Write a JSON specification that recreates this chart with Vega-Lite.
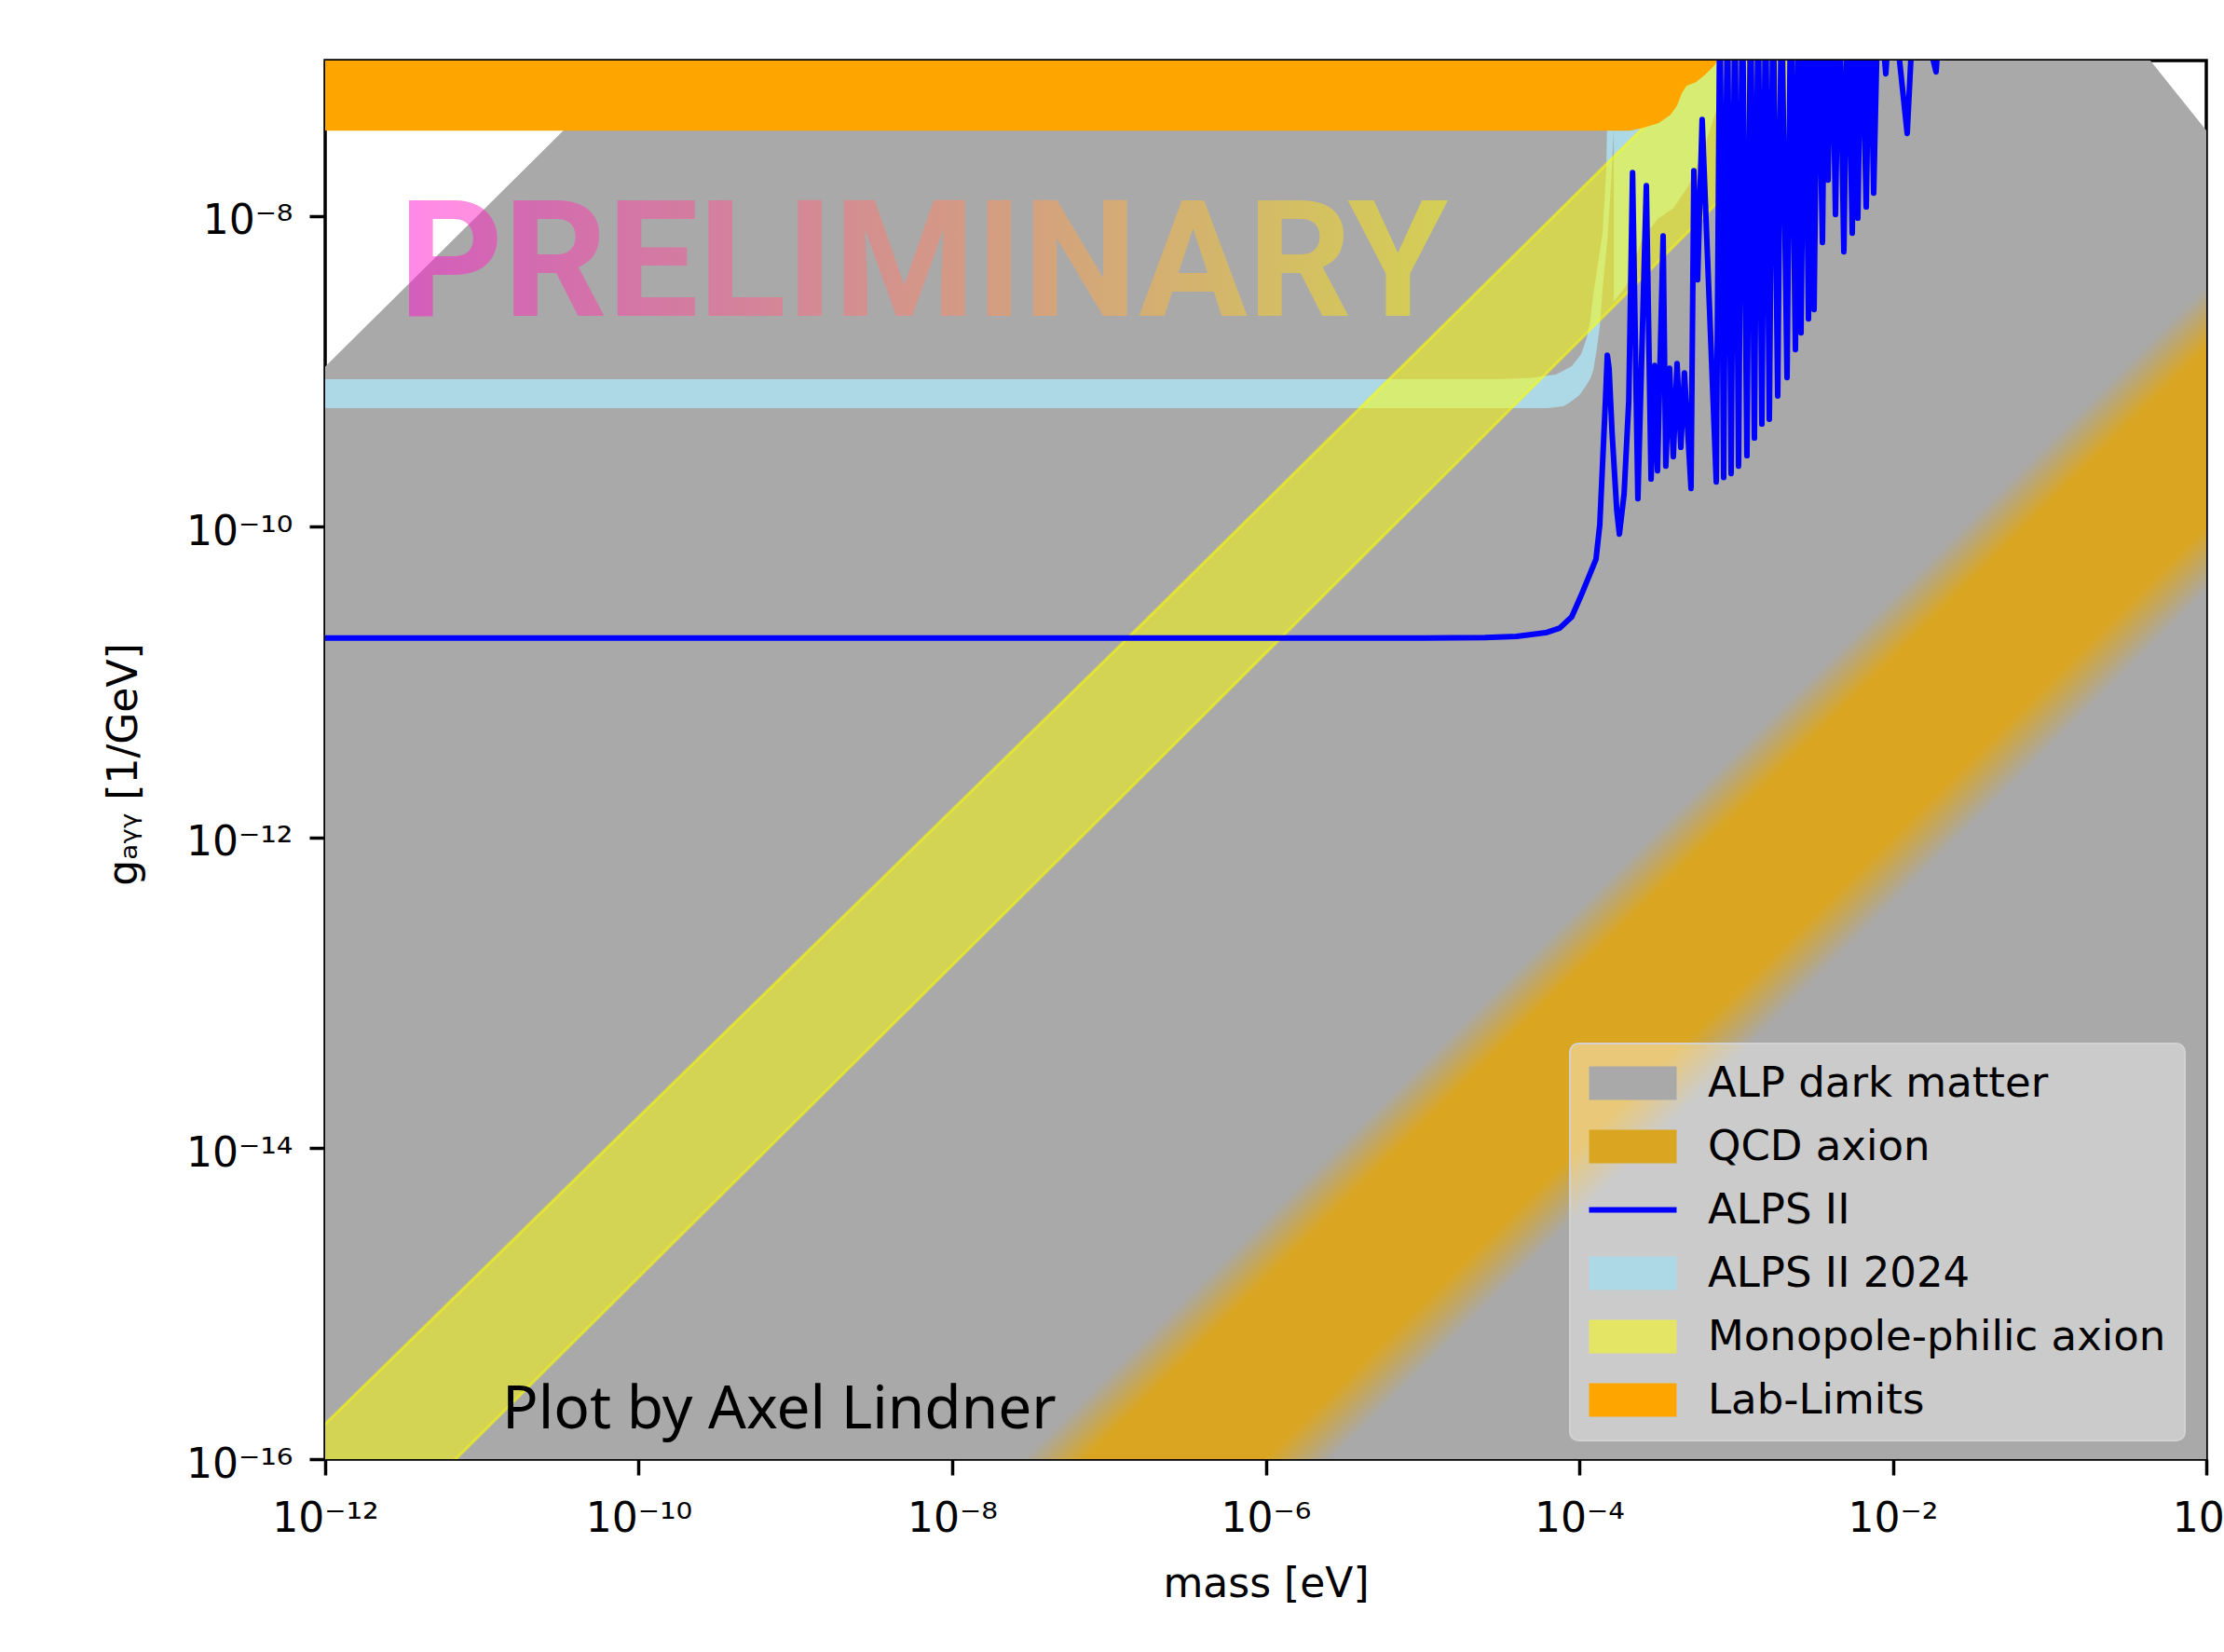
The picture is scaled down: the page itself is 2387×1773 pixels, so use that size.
{
  "$schema": "https://vega.github.io/schema/vega-lite/v6.json",
  "width": 2019,
  "height": 1501,
  "autosize": {"type": "none"},
  "padding": {"left": 349, "top": 65, "right": 19, "bottom": 207},
  "background": "white",
  "config": {
    "view": {"stroke": "black", "strokeWidth": 3.5, "fill": "white"},
    "axis": {"grid": false, "domain": false, "tickColor": "black", "tickWidth": 3.5, "tickSize": 17,
      "labelFont": "DejaVu Sans", "labelFontSize": 44, "labelColor": "black",
      "titleFont": "DejaVu Sans", "titleFontSize": 44, "titleFontWeight": "normal", "titleColor": "black"}
  },
  "encoding": {
    "x": {"field": "m", "type": "quantitative",
      "scale": {"type": "log", "domain": [1e-12, 1], "nice": false},
      "axis": {"values": [1e-12, 1e-10, 1e-8, 1e-6, 1e-4, 1e-2, 1],
        "labelExpr": "'10' + replace(replace(replace(replace(replace(replace(replace(toString(round(log(datum.value)/LN10)), '-', '⁻'), '0', '⁰'), '1', '¹'), '2', '²'), '4', '⁴'), '6', '⁶'), '8', '⁸')",
        "labelBaseline": "alphabetic", "labelPadding": 60, "labelFlush": false, "labelOverlap": false,
        "title": "mass [eV]", "titleBaseline": "alphabetic", "titleY": 147}},
    "y": {"field": "g", "type": "quantitative",
      "scale": {"type": "log", "domain": [1e-16, 1e-7], "nice": false},
      "axis": {"values": [1e-16, 1e-14, 1e-12, 1e-10, 1e-8],
        "labelExpr": "'10' + replace(replace(replace(replace(replace(replace(replace(toString(round(log(datum.value)/LN10)), '-', '⁻'), '0', '⁰'), '1', '¹'), '2', '²'), '4', '⁴'), '6', '⁶'), '8', '⁸')",
        "labelPadding": 18, "labelBaseline": "middle", "labelOffset": 6, "labelFlush": false, "labelOverlap": false,
        "title": "gₐᵧᵧ [1/GeV]", "titleX": -203, "titleY": 755, "titleAngle": -90, "titleBaseline": "alphabetic", "titleAlign": "center"}}
  },
  "layer": [
    {
      "data": {"values": [
        {"m": 1e-12, "g": 1e-17, "g2": 1.072e-9},
        {"m": 2.307e-5, "g": 1e-17, "g2": 2.472e-2},
        {"m": 1, "g": 1e-17, "g2": 3.548e-8},
        {"m": 1.585, "g": 1e-17, "g2": 1.986e-8}
      ]},
      "mark": {"type": "area", "clip": true},
      "encoding": {
        "y2": {"field": "g2"},
        "color": {"datum": "ALP dark matter", "type": "nominal",
          "scale": {"domain": ["ALP dark matter", "QCD axion", "ALPS II", "ALPS II 2024", "Monopole-philic axion", "Lab-Limits"],
            "range": ["#a9a9a9", "#daa520", "#0000ff", "#add8e6", "#ffff00", "#ffa500"]},
          "legend": {"orient": "none", "legendX": 1336, "legendY": 1055, "title": null,
            "symbolType": "M-2.611,-1L2.611,-1L2.611,1L-2.611,1Z", "symbolSize": 1296, "symbolStrokeWidth": 0,
            "symbolOffset": 25, "labelOffset": 58,
            "labelFont": "DejaVu Sans", "labelFontSize": 45, "labelColor": "black", "labelLimit": 1000,
            "rowPadding": 22, "padding": 20,
            "fillColor": "rgba(255,255,255,0.4)", "strokeColor": "#d2d2d2", "cornerRadius": 9,
            "encode": {
              "legend": {"update": {"strokeWidth": {"value": 2}}},
              "symbols": {"update": {
              "shape": {"signal": "datum.value === 'ALPS II' ? 'M-2.611,0L2.611,0' : 'M-2.611,-1L2.611,-1L2.611,1L-2.611,1Z'"},
              "stroke": {"signal": "datum.value === 'ALPS II' ? '#0000ff' : 'transparent'"},
              "strokeWidth": {"signal": "datum.value === 'ALPS II' ? 6 : 0"},
              "opacity": {"signal": "datum.value === 'Monopole-philic axion' ? 0.5 : 1"}
            }}}}}
      }
    },
    {
      "data": {"values": [
        {"m": 1e-8, "g": 3.802e-19, "g2": 3.548e-17},
        {"m": 3.162, "g": 1.202e-10, "g2": 1.122e-8}
      ]},
      "mark": {"type": "area", "clip": true,
        "fill": {"gradient": "linear", "x1": 0.5, "y1": 0.40592, "x2": 0.59207, "y2": 0.51933,
          "stops": [{"offset": 0, "color": "#a9a9a9"}, {"offset": 0.203, "color": "#daa520"}, {"offset": 0.782, "color": "#daa520"}, {"offset": 1, "color": "#a9a9a9"}]}},
      "encoding": {"y2": {"field": "g2"}}
    },
    {
      "data": {"values": [
        {"m": 1e-12, "g": 5.794e-10, "g2": 8.892e-10},
        {"m": 3.162e-5, "g": 5.794e-10, "g2": 8.892e-10},
        {"m": 5.012e-5, "g": 5.808e-10, "g2": 9.078e-10},
        {"m": 6.310e-5, "g": 5.808e-10, "g2": 9.397e-10},
        {"m": 7.096e-5, "g": 5.888e-10, "g2": 9.528e-10},
        {"m": 7.943e-5, "g": 5.970e-10, "g2": 1.012e-9},
        {"m": 8.954e-5, "g": 6.442e-10, "g2": 1.079e-9},
        {"m": 1e-4, "g": 7.015e-10, "g2": 1.245e-9},
        {"m": 1.028e-4, "g": 7.295e-10, "g2": 1.291e-9},
        {"m": 1.114e-4, "g": 8.185e-10, "g2": 1.629e-9},
        {"m": 1.178e-4, "g": 9.016e-10, "g2": 2.148e-9},
        {"m": 1.230e-4, "g": 1.019e-9, "g2": 3.141e-9},
        {"m": 1.297e-4, "g": 1.419e-9, "g2": 4.467e-9},
        {"m": 1.352e-4, "g": 1.950e-9, "g2": 5.888e-9},
        {"m": 1.409e-4, "g": 3.412e-9, "g2": 7.762e-9},
        {"m": 1.489e-4, "g": 6.026e-9, "g2": 2.042e-8},
        {"m": 1.510e-4, "g": 6.918e-9, "g2": 5.012e-8},
        {"m": 1.549e-4, "g": 1.023e-8, "g2": 3.162e-7},
        {"m": 1.592e-4, "g": 1.549e-8, "g2": 3.162e-7},
        {"m": 1.660e-4, "g": 3.548e-8, "g2": 3.162e-7},
        {"m": 1.663e-4, "g": 2.818e-9, "g2": 3.162e-7},
        {"m": 1.995e-4, "g": 3.548e-9, "g2": 3.162e-7},
        {"m": 2.512e-4, "g": 7.079e-9, "g2": 3.162e-7},
        {"m": 3.162e-4, "g": 9.550e-9, "g2": 3.162e-7},
        {"m": 3.981e-4, "g": 1.122e-8, "g2": 3.162e-7},
        {"m": 5.012e-4, "g": 1.585e-8, "g2": 3.162e-7},
        {"m": 6.310e-4, "g": 2.818e-8, "g2": 3.162e-7},
        {"m": 7.586e-4, "g": 5.012e-8, "g2": 3.162e-7},
        {"m": 8.913e-4, "g": 1e-7, "g2": 3.162e-7},
        {"m": 1e-3, "g": 1.585e-7, "g2": 3.162e-7}
      ]},
      "mark": {"type": "area", "clip": true},
      "encoding": {"y2": {"field": "g2"}, "color": {"datum": "ALPS II 2024", "type": "nominal"}}
    },
    {
      "data": {"values": [
        {"m": 1e-13, "g": 1.445e-18, "g2": 1.738e-17},
        {"m": 1.318e-7, "g": 1.995e-12, "g2": 1.928e-11},
        {"m": 1e-2, "g": 1.622e-7, "g2": 1.445e-6}
      ]},
      "mark": {"type": "area", "clip": true, "fillOpacity": 0.5, "stroke": "#ffff00", "strokeOpacity": 0.5, "strokeWidth": 3},
      "encoding": {"y2": {"field": "g2"}, "color": {"datum": "Monopole-philic axion", "type": "nominal"}}
    },
    {
      "data": {"values": [
        {"m": 1e-12, "g": 3.540e-8, "g2": 1e-6},
        {"m": 2.123e-4, "g": 3.540e-8, "g2": 1e-6},
        {"m": 2.535e-4, "g": 3.690e-8, "g2": 1e-6},
        {"m": 3.199e-4, "g": 3.954e-8, "g2": 1e-6},
        {"m": 3.819e-4, "g": 4.477e-8, "g2": 1e-6},
        {"m": 4.207e-4, "g": 5.140e-8, "g2": 1e-6},
        {"m": 4.508e-4, "g": 6.152e-8, "g2": 1e-6},
        {"m": 4.819e-4, "g": 6.871e-8, "g2": 1e-6},
        {"m": 5.534e-4, "g": 7.261e-8, "g2": 1e-6},
        {"m": 6.339e-4, "g": 8.110e-8, "g2": 1e-6},
        {"m": 7.278e-4, "g": 9.311e-8, "g2": 1e-6},
        {"m": 7.586e-4, "g": 9.977e-8, "g2": 1e-6},
        {"m": 8.913e-4, "g": 1.995e-7, "g2": 1e-6}
      ]},
      "mark": {"type": "area", "clip": true},
      "encoding": {"y2": {"field": "g2"}, "color": {"datum": "Lab-Limits", "type": "nominal"}}
    },
    {
      "data": {"values": [
        {"m": 1e-12, "g": 1.923e-11},
        {"m": 1e-5, "g": 1.923e-11},
        {"m": 2.512e-5, "g": 1.936e-11},
        {"m": 3.981e-5, "g": 1.972e-11},
        {"m": 6.109e-5, "g": 2.080e-11},
        {"m": 7.499e-5, "g": 2.228e-11},
        {"m": 8.954e-5, "g": 2.630e-11},
        {"m": 1.028e-4, "g": 3.614e-11},
        {"m": 1.279e-4, "g": 6.180e-11},
        {"m": 1.352e-4, "g": 1.030e-10},
        {"m": 1.409e-4, "g": 2.564e-10},
        {"m": 1.469e-4, "g": 6.457e-10},
        {"m": 1.510e-4, "g": 1.271e-9},
        {"m": 1.549e-4, "g": 1.047e-9},
        {"m": 1.618e-4, "g": 4.102e-10},
        {"m": 1.734e-4, "g": 1.285e-10},
        {"m": 1.803e-4, "g": 8.974e-11},
        {"m": 1.932e-4, "g": 1.626e-10},
        {"m": 2.070e-4, "g": 6.457e-10},
        {"m": 2.188e-4, "g": 1.901e-8},
        {"m": 2.366e-4, "g": 1.517e-10},
        {"m": 2.679e-4, "g": 1.567e-8},
        {"m": 2.871e-4, "g": 2.028e-10},
        {"m": 3.027e-4, "g": 1.091e-9},
        {"m": 3.155e-4, "g": 2.296e-10},
        {"m": 3.428e-4, "g": 7.447e-9},
        {"m": 3.565e-4, "g": 2.460e-10},
        {"m": 3.767e-4, "g": 1.047e-9},
        {"m": 3.981e-4, "g": 2.825e-10},
        {"m": 4.207e-4, "g": 1.122e-9},
        {"m": 4.446e-4, "g": 3.243e-10},
        {"m": 4.688e-4, "g": 9.772e-10},
        {"m": 5.164e-4, "g": 1.766e-10},
        {"m": 5.383e-4, "g": 1.954e-8},
        {"m": 5.689e-4, "g": 3.890e-9},
        {"m": 6.081e-4, "g": 4.178e-8},
        {"m": 7.482e-4, "g": 1.945e-10},
        {"m": 7.897e-4, "g": 3.162e-7},
        {"m": 8.340e-4, "g": 2.075e-10},
        {"m": 8.810e-4, "g": 3.162e-7},
        {"m": 9.307e-4, "g": 2.203e-10},
        {"m": 9.831e-4, "g": 3.162e-7},
        {"m": 1.038e-3, "g": 2.460e-10},
        {"m": 1.097e-3, "g": 3.162e-7},
        {"m": 1.174e-3, "g": 2.864e-10},
        {"m": 1.240e-3, "g": 3.162e-7},
        {"m": 1.310e-3, "g": 3.724e-10},
        {"m": 1.384e-3, "g": 3.162e-7},
        {"m": 1.462e-3, "g": 4.581e-10},
        {"m": 1.544e-3, "g": 3.162e-7},
        {"m": 1.631e-3, "g": 4.909e-10},
        {"m": 1.723e-3, "g": 3.162e-7},
        {"m": 1.845e-3, "g": 6.934e-10},
        {"m": 1.949e-3, "g": 3.162e-7},
        {"m": 2.116e-3, "g": 9.120e-10},
        {"m": 2.235e-3, "g": 3.162e-7},
        {"m": 2.393e-3, "g": 1.380e-9},
        {"m": 2.494e-3, "g": 3.162e-7},
        {"m": 2.598e-3, "g": 1.770e-9},
        {"m": 2.744e-3, "g": 3.162e-7},
        {"m": 2.899e-3, "g": 2.178e-9},
        {"m": 3.020e-3, "g": 3.162e-7},
        {"m": 3.147e-3, "g": 2.500e-9},
        {"m": 3.324e-3, "g": 3.162e-7},
        {"m": 3.559e-3, "g": 6.761e-9},
        {"m": 3.708e-3, "g": 3.162e-7},
        {"m": 3.864e-3, "g": 1.702e-8},
        {"m": 4.081e-3, "g": 3.162e-7},
        {"m": 4.311e-3, "g": 1.021e-8},
        {"m": 4.553e-3, "g": 3.162e-7},
        {"m": 4.875e-3, "g": 5.888e-9},
        {"m": 5.149e-3, "g": 3.162e-7},
        {"m": 5.514e-3, "g": 7.762e-9},
        {"m": 5.744e-3, "g": 3.162e-7},
        {"m": 5.985e-3, "g": 9.683e-9},
        {"m": 6.322e-3, "g": 3.162e-7},
        {"m": 6.770e-3, "g": 1.143e-8},
        {"m": 7.151e-3, "g": 3.162e-7},
        {"m": 7.553e-3, "g": 1.403e-8},
        {"m": 8.088e-3, "g": 3.162e-7},
        {"m": 9.025e-3, "g": 8.222e-8},
        {"m": 9.797e-3, "g": 3.162e-7},
        {"m": 1.236e-2, "g": 3.396e-8},
        {"m": 1.379e-2, "g": 3.162e-7},
        {"m": 1.888e-2, "g": 8.453e-8},
        {"m": 2.080e-2, "g": 3.162e-7}
      ]},
      "mark": {"type": "line", "clip": true, "strokeWidth": 6, "strokeJoin": "round"},
      "encoding": {"color": {"datum": "ALPS II", "type": "nominal"}}
    },
    {
      "data": {"values": [{"m": 2.951e-12, "g": 2.270e-9, "label": "PRELIMINARY"}]},
      "mark": {"type": "text", "align": "left", "baseline": "alphabetic", "font": "Roboto", "fontWeight": "bold", "fontSize": 174,
        "fill": {"gradient": "linear", "x1": 0, "y1": 0, "x2": 1, "y2": 0,
          "stops": [{"offset": 0, "color": "#ff11d1"}, {"offset": 1, "color": "#fff500"}]},
        "fillOpacity": 0.5},
      "encoding": {"text": {"field": "label"}}
    },
    {
      "data": {"values": [{"m": 1.346e-11, "g": 1.578e-16, "label": "Plot by Axel Lindner"}]},
      "mark": {"type": "text", "align": "left", "baseline": "alphabetic", "font": "Noto Sans", "fontSize": 64, "color": "black"},
      "encoding": {"text": {"field": "label"}}
    }
  ]
}
